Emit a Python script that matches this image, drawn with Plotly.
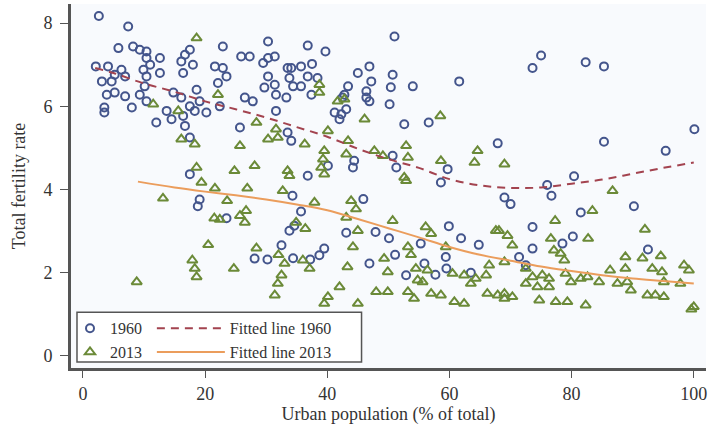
import plotly.graph_objects as go

# ---- data ----
x1960 = [2.6, 7.4, 5.8, 8.2, 9.3, 10.4, 12.6, 10.4, 11.0, 2.1, 4.1, 6.3, 9.9, 12.6, 3.1, 4.7, 5.2, 6.9, 10.4, 10.1,
         3.9, 5.2, 6.9, 9.3, 10.4, 3.5, 3.5, 8.0, 16.7, 17.5, 18.0, 16.4, 16.1, 18.6, 14.8, 16.1, 17.5, 19.1, 18.3, 20.2,
         13.7, 12.0, 14.5, 16.4, 16.7, 17.5, 22.9, 21.6, 22.9, 23.5, 22.1, 25.9, 27.3, 30.3, 29.5, 30.3, 31.4, 30.3, 29.7, 31.4,
         31.6, 33.5, 33.8, 33.3, 26.5, 27.8, 22.4, 31.6, 25.7, 17.5, 33.5, 34.1,
         51.0, 36.8, 39.7, 35.7, 37.5, 34.1, 36.8, 38.4, 34.4, 35.7, 37.4, 45.0, 46.9, 43.4, 42.8, 47.2, 46.4, 46.4, 46.9,
         50.7, 50.4, 54.0, 50.2, 61.6, 41.2, 42.0, 52.6, 56.6, 67.9, 50.7, 51.3, 44.4, 44.2, 40.1, 59.7, 36.8,
         43.1, 42.3, 42.5,
         73.6, 75.0, 82.3, 85.3, 85.3, 95.4, 100.1, 80.4,
         76.0, 69.0, 70.0, 76.7, 90.2, 81.5, 73.6, 80.2, 78.5, 73.6, 92.5, 71.4, 72.5,
         58.6, 34.3, 35.7, 45.9, 34.6, 33.8, 43.1, 47.9, 50.1, 39.5, 38.7, 34.4, 37.2, 46.9, 51.1, 55.3, 59.9, 61.9, 64.8,
         59.4, 55.9, 52.9, 57.7, 59.5, 63.5,
         19.1, 18.8, 23.5, 32.5, 28.1, 30.2]
y1960 = [8.17, 7.92, 7.40, 7.44, 7.36, 7.32, 7.16, 7.16, 7.00, 6.96, 6.96, 6.88, 6.88, 6.80, 6.60, 6.60, 6.76, 6.72, 6.72, 6.48,
         6.28, 6.33, 6.24, 6.28, 6.12, 5.97, 5.85, 5.97, 7.24, 7.36, 7.00, 6.80, 7.08, 6.40, 6.33, 6.21, 6.00, 6.12, 5.89, 5.85,
         5.89, 5.61, 5.69, 5.77, 5.53, 5.25, 7.44, 6.96, 6.92, 6.72, 6.56, 7.20, 7.20, 7.56, 7.04, 7.16, 7.20, 6.72, 6.45, 6.52,
         6.28, 6.92, 6.68, 6.21, 6.21, 6.12, 6.00, 5.89, 5.49, 4.37, 5.37, 5.17,
         7.68, 7.46, 7.32, 6.96, 7.02, 6.92, 6.72, 6.68, 6.48, 6.48, 6.28, 6.80, 6.96, 6.48, 6.28, 6.60, 6.36, 6.21, 6.12,
         6.76, 6.46, 6.48, 6.05, 6.60, 5.85, 5.69, 5.57, 5.61, 5.11, 4.81, 4.53, 4.69, 4.53, 4.57, 4.49, 4.33,
         5.93, 5.81, 6.21,
         6.92, 7.22, 7.06, 6.96, 5.15, 4.93, 5.45, 4.32,
         4.11, 3.81, 3.65, 3.85, 3.60, 3.45, 3.10, 2.87, 2.70, 2.58, 2.56, 2.38, 2.18,
         4.17, 3.85, 3.47, 3.77, 3.13, 3.01, 2.96, 2.98, 2.83, 2.58, 2.42, 2.35, 2.32, 2.22, 2.43, 2.70, 3.12, 2.83, 2.67,
         2.38, 2.22, 1.94, 1.95, 2.10, 2.00,
         3.76, 3.60, 3.31, 2.66, 2.34, 2.32]

x2013 = [18.6, 11.5, 22.1, 15.6, 28.4, 31.6, 31.9, 30.3, 16.1, 18.3, 25.7, 18.6, 24.8, 28.1, 33.5, 33.8,
         38.7, 38.7, 41.7, 42.8, 46.1, 58.5, 40.1, 36.3, 43.4, 43.1, 39.5, 39.3, 39.0, 47.7, 49.1, 52.9, 53.2, 58.6, 64.6,
         64.1, 69.0, 39.5, 52.6,
         86.7, 83.4, 77.3, 92.0, 76.6, 82.7, 77.1, 78.2, 78.8, 68.1, 69.5, 70.3, 69.0, 88.8, 91.6, 94.6, 98.4, 99.2, 72.5,
         73.6, 75.2, 76.3, 72.5, 74.4, 76.3, 79.0, 79.9, 81.5, 82.6, 84.5, 86.3, 87.5, 88.8, 89.1, 89.7, 93.2, 94.8, 95.1,
         97.8, 92.4, 93.7, 95.1, 100.0, 99.6, 77.4, 79.3, 82.3, 69.0, 70.3, 74.7,
         52.9, 37.9, 43.9, 44.7, 43.1, 50.7, 34.9, 36.4, 45.0, 56.1, 57.0, 59.4, 53.2, 53.7, 49.3, 44.2, 36.0, 37.1, 43.3,
         49.9, 54.5, 56.4, 54.8, 55.6, 60.5, 62.4, 63.5, 66.0, 66.5, 67.6, 42.0, 40.1, 39.5, 45.0, 48.0, 49.9, 53.2, 54.2,
         57.0, 58.6, 60.8, 62.4, 66.2, 67.9, 69.0, 64.3,
         19.4, 21.6, 26.9, 32.7, 13.1, 23.6, 21.5, 22.4, 25.7, 26.7, 26.5, 20.5, 28.4, 32.0, 33.0, 17.9, 18.3, 18.6, 24.7,
         32.5, 31.9, 31.4, 8.8]
y2013 = [7.64, 6.05, 6.28, 5.89, 5.61, 5.45, 5.25, 5.21, 5.21, 5.09, 5.05, 4.53, 4.45, 4.57, 4.45, 4.33,
         6.52, 6.33, 6.12, 6.17, 5.69, 5.77, 5.41, 5.09, 5.17, 4.85, 4.93, 4.73, 4.53, 4.93, 4.81, 5.05, 4.77, 4.69, 4.93,
         4.65, 4.61, 4.37, 4.29,
         3.97, 3.49, 3.25, 3.04, 2.82, 2.82, 2.54, 2.46, 2.30, 3.01, 2.89, 2.66, 2.26, 2.38, 2.35, 2.40, 2.18, 2.06, 2.10,
         1.90, 1.94, 1.86, 1.74, 1.66, 1.66, 1.98, 1.78, 1.86, 1.90, 1.78, 2.06, 1.74, 2.10, 1.78, 1.58, 2.10, 2.02, 1.78,
         1.74, 1.46, 1.46, 1.42, 1.18, 1.12, 1.30, 1.30, 1.22, 1.50, 1.42, 1.34,
         4.21, 3.69, 3.73, 3.53, 3.33, 3.25, 3.21, 3.06, 3.01, 3.10, 2.94, 2.62, 2.62, 2.43, 2.34, 2.62, 2.30, 2.10, 2.14,
         2.02, 2.10, 2.06, 1.82, 1.78, 1.98, 1.94, 1.74, 1.94, 2.18, 3.01, 1.66, 1.42, 1.26, 1.26, 1.54, 1.54, 1.54, 1.38,
         1.50, 1.46, 1.30, 1.26, 1.50, 1.46, 1.38, 1.86,
         4.17, 4.03, 4.03, 3.97, 3.79, 3.73, 3.31, 3.28, 3.37, 3.49, 3.21, 2.67, 2.59, 2.43, 2.22, 2.30, 2.10, 1.90, 2.10,
         1.94, 1.74, 1.46, 1.78]

fit1960_x = [2, 5, 10, 15, 20, 25, 30, 35, 40, 45, 50, 55, 60, 65, 70, 75, 80, 85, 90, 95, 100]
fit1960_y = [6.92, 6.80, 6.55, 6.35, 6.12, 5.93, 5.73, 5.50, 5.27, 4.98, 4.73, 4.52, 4.25, 4.10, 4.04, 4.05, 4.14,
             4.24, 4.38, 4.52, 4.65]
fit2013_x = [9, 15, 20, 25, 30, 35, 40, 45, 50, 55, 60, 65, 70, 75, 80, 85, 90, 95, 100]
fit2013_y = [4.19, 4.05, 3.95, 3.86, 3.76, 3.64, 3.50, 3.29, 3.07, 2.85, 2.62, 2.43, 2.29, 2.15, 2.04, 1.94, 1.86,
             1.80, 1.74]

x_ticks = [0, 20, 40, 60, 80, 100]
y_ticks = [0, 2, 4, 6, 8]

FONT = "Liberation Serif"
TXT = "#333333"
C1960 = "#44558c"
C2013 = "#6b8a38"
CFIT60 = "#a3434f"
CFIT13 = "#eb9d5c"

fig = go.Figure()
fig.add_trace(go.Scatter(x=x1960, y=y1960, mode="markers", name="1960", legend="legend",
                         marker=dict(symbol="circle-open", size=8, color=C1960, line=dict(width=2, color=C1960))))
fig.add_trace(go.Scatter(x=x2013, y=y2013, mode="markers", name="2013", legend="legend",
                         marker=dict(symbol="triangle-up-open", size=9, color=C2013, line=dict(width=2, color=C2013))))
fig.add_trace(go.Scatter(x=fit1960_x, y=fit1960_y, mode="lines", name="Fitted line 1960", legend="legend2",
                         line=dict(color=CFIT60, width=2, dash="8px,6px", shape="spline")))
fig.add_trace(go.Scatter(x=fit2013_x, y=fit2013_y, mode="lines", name="Fitted line 2013", legend="legend2",
                         line=dict(color=CFIT13, width=2, shape="spline")))

L, R, T, B = 71, 1, 4, 55
W, H = 708, 425
pw, ph = W - L - R, H - T - B

def px2x(p):
    return (p - L) / pw

def px2y(p):
    return (H - B - p) / ph

fig.update_layout(
    width=W, height=H,
    margin=dict(l=L, r=R, t=T, b=B),
    paper_bgcolor="white",
    plot_bgcolor="#f8fafd",
    font=dict(family=FONT, size=18, color=TXT),
    showlegend=True,
    legend=dict(x=px2x(70), y=px2y(313), xanchor="left", yanchor="top",
                bgcolor="rgba(0,0,0,0)", borderwidth=0, tracegroupgap=0,
                font=dict(family=FONT, size=16, color=TXT), itemwidth=30),
    legend2=dict(x=px2x(152), y=px2y(313), xanchor="left", yanchor="top",
                 bgcolor="rgba(0,0,0,0)", borderwidth=0, tracegroupgap=0,
                 font=dict(family=FONT, size=16, color=TXT), itemwidth=68),
    shapes=[dict(type="rect", xref="paper", yref="paper",
                 x0=px2x(77), x1=px2x(362), y0=px2y(364), y1=px2y(314),
                 line=dict(color="#555555", width=1.5), fillcolor="white", layer="above")],
    xaxis=dict(range=[-1.96, 102], tickvals=x_ticks, ticks="outside", ticklen=7, tickwidth=1.2,
               tickcolor="#555555", showline=True, linecolor="#555555", linewidth=3,
               showgrid=False, zeroline=False, tickfont=dict(size=18), ticklabeloverflow="allow",
               title=dict(text="Urban population (% of total)", font=dict(size=18), standoff=8)),
    yaxis=dict(range=[-0.29, 8.46], tickvals=y_ticks, ticks="outside", ticklen=8, tickwidth=1.2,
               tickcolor="#555555", showline=True, linecolor="#555555", linewidth=3,
               showgrid=False, zeroline=False, tickfont=dict(size=18), ticklabelstandoff=4,
               title=dict(text="Total fertility rate", font=dict(size=18), standoff=14)),
)

fig.write_html("out.html")
